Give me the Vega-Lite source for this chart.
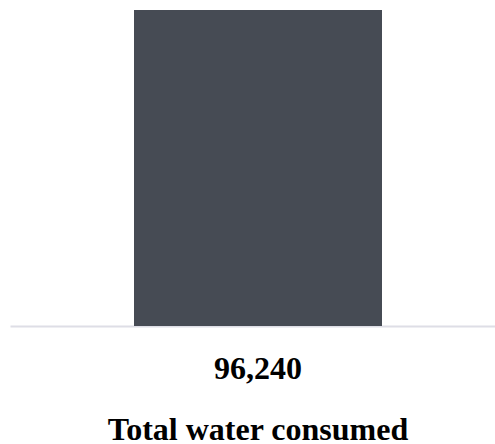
{
  "$schema": "https://vega.github.io/schema/vega-lite/v6.json",
  "width": 496,
  "height": 316,
  "autosize": {"type": "none"},
  "padding": {"left": 10, "top": 10, "right": 0, "bottom": 118},
  "background": "white",
  "config": {"view": {"stroke": null}},
  "data": {"values": [{"category": "Total water consumed", "value": 96240}]},
  "layer": [
    {
      "mark": {"type": "bar", "color": "#464b54", "width": {"band": 0.5}},
      "encoding": {
        "x": {"field": "category", "type": "nominal", "scale": {"paddingInner": 0, "paddingOuter": 0},
              "axis": {"labels": false, "ticks": false, "title": null, "domainColor": "#dedee6", "domainWidth": 2, "zindex": 0}},
        "y": {"field": "value", "type": "quantitative", "axis": null, "scale": {"domain": [0, 96240], "nice": false}}
      }
    },
    {
      "mark": {"type": "text", "font": "Liberation Serif", "fontWeight": "bold", "fontSize": 32, "baseline": "alphabetic", "align": "center", "dy": 53, "color": "black"},
      "encoding": {
        "x": {"field": "category", "type": "nominal"},
        "y": {"datum": 0},
        "text": {"field": "value", "type": "quantitative", "format": ","}
      }
    },
    {
      "mark": {"type": "text", "font": "Liberation Serif", "fontWeight": "bold", "fontSize": 32, "baseline": "alphabetic", "align": "center", "dy": 114, "color": "black"},
      "encoding": {
        "x": {"field": "category", "type": "nominal"},
        "y": {"datum": 0},
        "text": {"field": "category", "type": "nominal"}
      }
    }
  ]
}
